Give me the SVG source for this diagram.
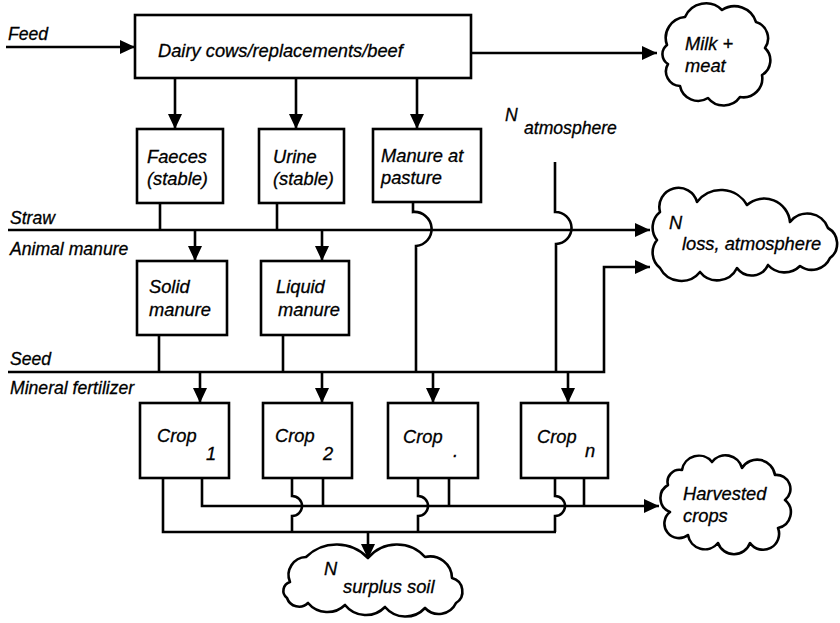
<svg xmlns="http://www.w3.org/2000/svg" width="840" height="623" viewBox="0 0 840 623">
<defs>
<marker id="ah" markerUnits="userSpaceOnUse" markerWidth="16" markerHeight="14" refX="15" refY="7" orient="auto">
<path d="M0,0 L15,7 L0,14 Z" fill="#000"/>
</marker>
<style>
text{font-family:"Liberation Sans",Arial,sans-serif;font-style:italic;font-size:18.3px;fill:#000;stroke:#000;stroke-width:0.3}
.lbl{font-size:17.6px}
.box{fill:#fff;stroke:#000;stroke-width:2.6}
.cloud{fill:#fff;stroke:#000;stroke-width:2.6;stroke-linejoin:round}
.c{fill:none;stroke:#000;stroke-width:2.6}
.a{marker-end:url(#ah)}
</style>
</defs>
<rect width="840" height="623" fill="#fff"/>

<g id="connectors">
<path class="c a" d="M6,47 H135"/>
<path class="c a" d="M175,78 V129"/>
<path class="c a" d="M296,78 V129"/>
<path class="c a" d="M417,78 V129"/>
<path class="c a" d="M471,53 H657"/>
<path class="c" d="M160,203 V230"/>
<path class="c" d="M277,203 V230"/>
<path class="c a" d="M8,230 H650"/>
<path class="c a" d="M195,230 V261"/>
<path class="c a" d="M322,230 V261"/>
<path class="c" d="M413,202 V212 A17,17 0 0 1 416,246 V372"/>
<path class="c" d="M555,162 V212 A16,16 0 0 1 556,244 V372"/>
<path class="c" d="M159,335 V372"/>
<path class="c" d="M283,335 V372"/>
<path class="c a" d="M8,372 H604 V267 H650"/>
<path class="c a" d="M200,372 V403"/>
<path class="c a" d="M322,372 V403"/>
<path class="c a" d="M433,372 V403"/>
<path class="c a" d="M568,372 V403"/>
<path class="c" d="M163,478 V532 H556"/>
<path class="c a" d="M202,478 V506 H659"/>
<path class="c" d="M292,478 V496 A10,10 0 0 1 292,516 V532"/>
<path class="c" d="M323,478 V506"/>
<path class="c" d="M418,478 V496 A10,10 0 0 1 418,516 V532"/>
<path class="c" d="M449,478 V506"/>
<path class="c" d="M555,478 V496 A10,10 0 0 1 555,516 V532"/>
<path class="c" d="M584,478 V506"/>
<path class="c a" d="M368,532 V559"/>
</g>

<g id="feed"><text class="lbl" x="8" y="40">Feed</text></g>
<g id="straw"><text class="lbl" x="10" y="224">Straw</text></g>
<g id="animal-manure"><text class="lbl" x="10" y="255">Animal manure</text></g>
<g id="seed"><text class="lbl" x="10" y="365">Seed</text></g>
<g id="mineral-fertilizer"><text class="lbl" x="10" y="394">Mineral fertilizer</text></g>
<g id="n-atmosphere"><text class="lbl" x="505" y="121">N</text><text class="lbl" x="524" y="134">atmosphere</text></g>

<g id="dairy">
<rect class="box" x="135" y="15" width="336" height="63"/>
<text x="158" y="57">Dairy cows/replacements/beef</text>
</g>
<g id="faeces">
<rect class="box" x="137" y="129" width="86" height="74"/>
<text x="147" y="163">Faeces</text><text x="147" y="185">(stable)</text>
</g>
<g id="urine">
<rect class="box" x="259" y="129" width="85" height="74"/>
<text x="273" y="163">Urine</text><text x="273" y="185">(stable)</text>
</g>
<g id="manure-pasture">
<rect class="box" x="373" y="129" width="108" height="73"/>
<text x="381" y="162">Manure at</text><text x="381" y="184">pasture</text>
</g>
<g id="solid-manure">
<rect class="box" x="137" y="261" width="90" height="74"/>
<text x="149" y="293">Solid</text><text x="149" y="316">manure</text>
</g>
<g id="liquid-manure">
<rect class="box" x="261" y="261" width="88" height="74"/>
<text x="276" y="293">Liquid</text><text x="278" y="316">manure</text>
</g>
<g id="crop1">
<rect class="box" x="140" y="403" width="89" height="75"/>
<text x="157" y="442">Crop</text><text x="206" y="460">1</text>
</g>
<g id="crop2">
<rect class="box" x="263" y="403" width="89" height="75"/>
<text x="275" y="442">Crop</text><text x="323" y="460">2</text>
</g>
<g id="crop3">
<rect class="box" x="388" y="403" width="90" height="75"/>
<text x="403" y="443">Crop</text><text x="453" y="457">.</text>
</g>
<g id="cropn">
<rect class="box" x="521" y="403" width="87" height="75"/>
<text x="537" y="443">Crop</text><text x="585" y="457">n</text>
</g>

<g id="milk-meat">
<path class="cloud" d="M667,45 A21,21 0 0 1 685,17 A22.8,22.8 0 0 1 722,10 A22.5,22.5 0 0 1 756,22 A17,17 0 0 1 765,48 A17,17 0 0 1 762,75 A19,19 0 0 1 740,97 A20,20 0 0 1 708,98 A18.5,18.5 0 0 1 680,86 A14.6,14.6 0 0 1 668,64 A11.5,11.5 0 0 1 667,45 Z"/>
<text x="685" y="50">Milk +</text><text x="685" y="72">meat</text>
</g>
<g id="n-loss">
<path class="cloud" d="M660,268 A20,20 0 0 1 657,240 A20,20 0 0 1 660,212 A19,19 0 0 1 697,202 A30,30 0 0 1 747,205 A26,26 0 0 1 790,222 A22,22 0 0 1 828,228 A18,18 0 0 1 830,258 A20,20 0 0 1 800,266 A22,22 0 0 1 768,265 A18,18 0 0 1 737,268 A22,22 0 0 1 700,272 A24,24 0 0 1 660,268 Z"/>
<text x="669" y="229">N</text><text x="682" y="250">loss, atmosphere</text>
</g>
<g id="harvested">
<path class="cloud" d="M668,485 A12,12 0 0 1 682,470 A17,17 0 0 1 712,462 A17,17 0 0 1 742,468 A18,18 0 0 1 775,475 A14,14 0 0 1 785,500 A16,16 0 0 1 778,528 A16,16 0 0 1 750,543 A17,17 0 0 1 718,543 A17,17 0 0 1 688,535 A14,14 0 0 1 670,512 A15,15 0 0 1 668,485 Z"/>
<text x="683" y="500">Harvested</text><text x="683" y="522">crops</text>
</g>
<g id="surplus">
<path class="cloud" d="M290,582 A18,18 0 0 1 306,557 A43.5,43.5 0 0 1 368,558 A37.7,37.7 0 0 1 425,557 A22,22 0 0 1 452,578 A13.8,13.8 0 0 1 456,603 A19,19 0 0 1 425,608 A26.7,26.7 0 0 1 385,607 A26.7,26.7 0 0 1 345,605 A25.4,25.4 0 0 1 308,603 A12.7,12.7 0 0 1 287,598 A9.1,9.1 0 0 1 290,582 Z"/>
<text x="324" y="575">N</text><text x="343" y="593">surplus soil</text>
</g>
</svg>
